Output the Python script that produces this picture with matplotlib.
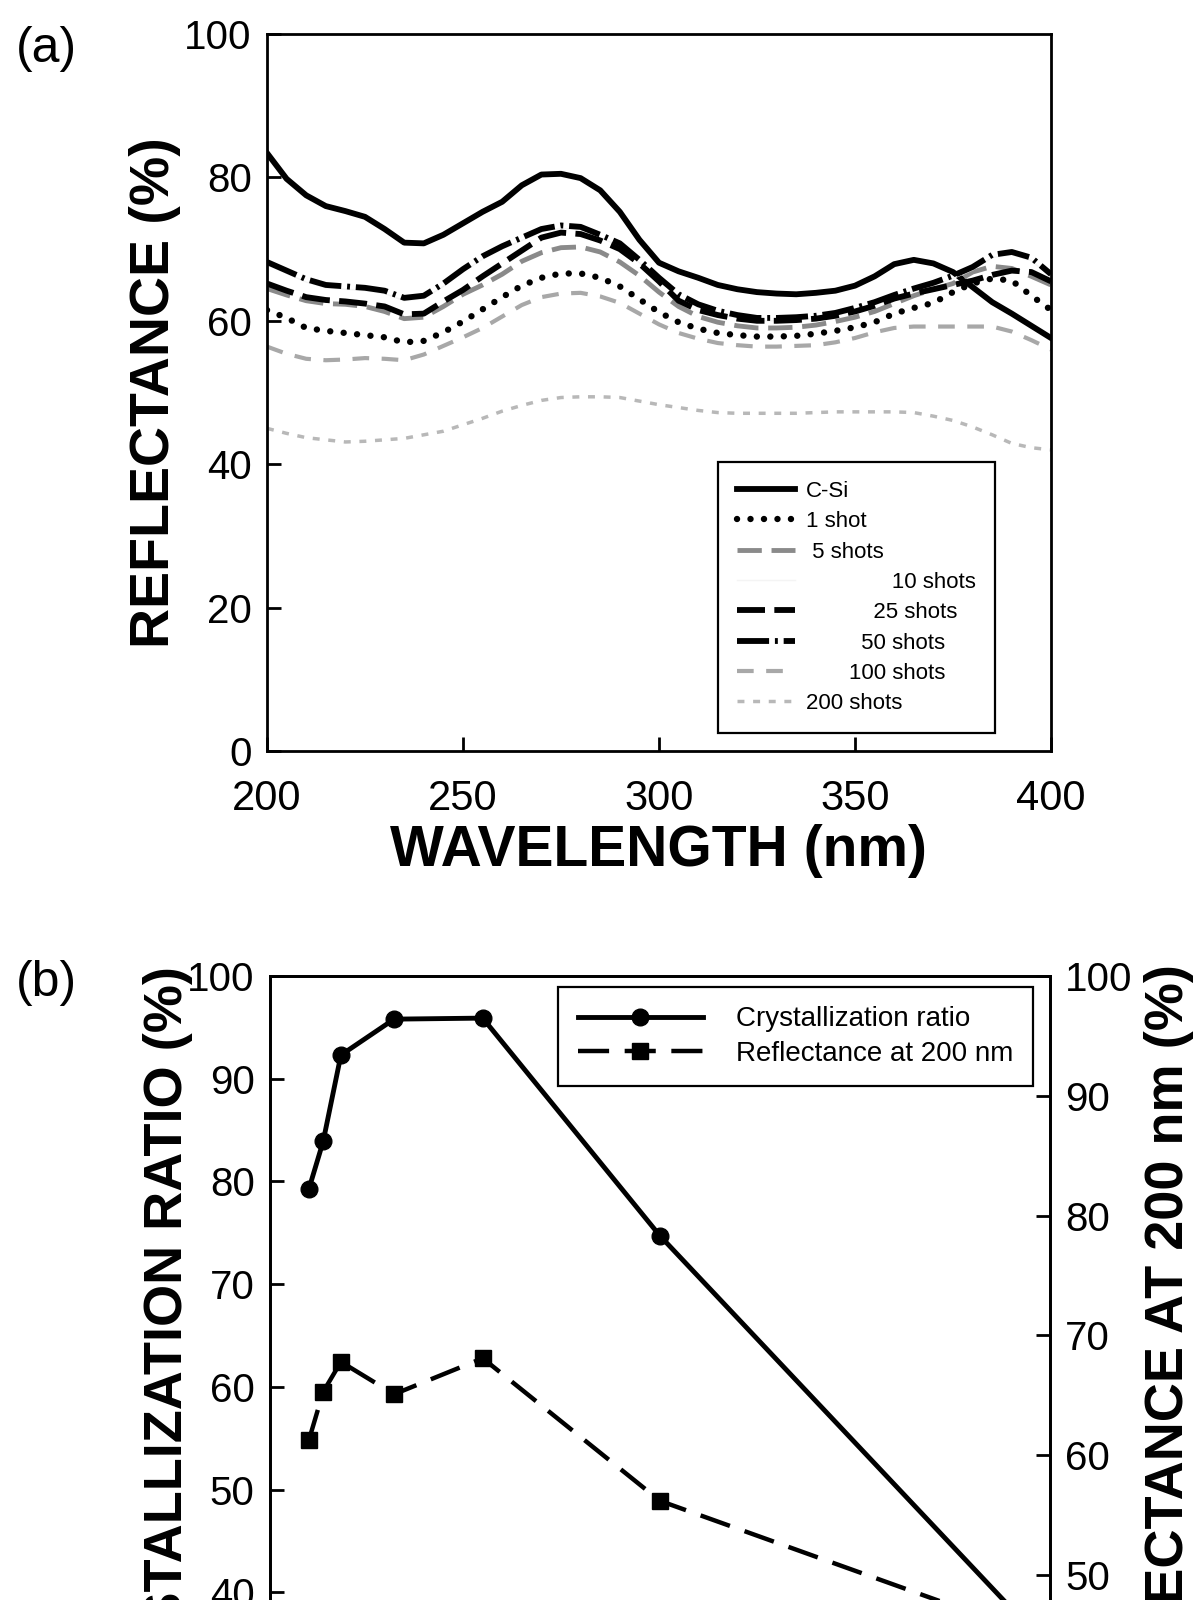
import matplotlib
matplotlib.use("Agg")
import matplotlib.pyplot as plt

plt.rcParams['font.family'] = ['Liberation Sans', 'DejaVu Sans']

# ---- panel (a): reflectance spectra ----
wavelength = [200, 205, 210, 215, 220, 225, 230, 235, 240, 245,
              250, 255, 260, 265, 270, 275, 280, 285, 290, 295,
              300, 305, 310, 315, 320, 325, 330, 335, 340, 345,
              350, 355, 360, 365, 370, 375, 380, 385, 390, 395, 400]

r_csi = [83.4, 79.8, 77.5, 76.0, 75.3, 74.5, 72.8, 70.9, 70.8, 72.0,
         73.6, 75.2, 76.6, 78.9, 80.4, 80.5, 79.9, 78.2, 75.2, 71.3,
         68.1, 66.9, 66.0, 65.0, 64.4, 64.0, 63.8, 63.7, 63.9, 64.2,
         64.9, 66.2, 67.9, 68.5, 68.0, 66.8, 64.7, 62.6, 61.0, 59.3, 57.6]
r_1 = [61.5, 60.4, 59.0, 58.6, 58.3, 58.0, 57.7, 57.0, 57.2, 58.4,
       59.9, 61.6, 63.3, 64.9, 66.0, 66.6, 66.6, 66.0, 64.8, 63.0,
       61.2, 59.8, 58.9, 58.3, 58.0, 57.8, 57.8, 57.9, 58.2, 58.6,
       59.1, 59.8, 61.0, 61.8, 62.5, 64.0, 65.2, 65.9, 65.6, 63.5, 61.5]
r_5 = [64.5, 63.6, 62.8, 62.4, 62.3, 62.0, 61.3, 60.3, 60.5, 62.0,
       63.7, 65.0, 66.5, 68.3, 69.5, 70.2, 70.3, 69.6, 68.2, 66.3,
       64.0, 62.0, 60.6, 59.8, 59.3, 59.0, 59.0, 59.1, 59.4, 59.9,
       60.5, 61.3, 62.4, 63.5, 64.4, 65.2, 66.8, 67.6, 67.3, 66.2, 65.0]
r_10 = [67.8, 66.6, 65.4, 64.6, 64.4, 64.2, 63.8, 62.8, 63.1, 64.8,
        66.8, 68.6, 70.0, 71.2, 72.4, 72.9, 72.7, 71.6, 70.4, 68.1,
        65.6, 63.3, 61.9, 61.0, 60.4, 60.0, 60.0, 60.1, 60.3, 60.7,
        61.4, 62.2, 63.2, 64.1, 64.9, 65.9, 67.1, 68.8, 69.2, 68.4, 66.1]
r_25 = [65.2, 64.2, 63.3, 62.9, 62.7, 62.4, 62.0, 60.9, 61.0, 62.7,
        64.3, 66.2, 68.0, 69.8, 71.6, 72.3, 72.1, 71.2, 70.0, 68.0,
        65.5, 62.8, 61.5, 60.8, 60.3, 60.0, 60.0, 60.1, 60.3, 60.7,
        61.3, 62.1, 63.1, 63.8, 64.4, 65.0, 65.6, 66.4, 67.0, 66.8, 65.5]
r_50 = [68.2, 67.0, 65.8, 65.0, 64.8, 64.6, 64.2, 63.2, 63.5, 65.2,
        67.2, 69.0, 70.4, 71.6, 72.8, 73.3, 73.1, 72.0, 70.8, 68.5,
        66.0, 63.7, 62.3, 61.4, 60.8, 60.4, 60.4, 60.5, 60.7, 61.1,
        61.8, 62.6, 63.6, 64.5, 65.3, 66.3, 67.5, 69.2, 69.6, 68.8, 66.5]
r_100 = [56.4, 55.4, 54.7, 54.5, 54.6, 54.8, 54.7, 54.5, 55.3, 56.5,
         57.7, 59.0, 60.6, 62.2, 63.3, 63.8, 63.9, 63.4, 62.5, 61.0,
         59.5, 58.3, 57.5, 56.9, 56.6, 56.4, 56.4, 56.5, 56.6, 57.0,
         57.6, 58.4, 59.0, 59.2, 59.2, 59.2, 59.2, 59.2, 58.5, 57.3, 56.0]
r_200 = [45.0, 44.3, 43.7, 43.4, 43.1, 43.2, 43.4, 43.6, 44.1, 44.6,
         45.5, 46.4, 47.4, 48.2, 48.9, 49.3, 49.4, 49.4, 49.3, 48.8,
         48.3, 47.9, 47.5, 47.2, 47.1, 47.1, 47.1, 47.1, 47.2, 47.3,
         47.3, 47.3, 47.3, 47.2, 46.7, 46.1, 45.2, 44.1, 42.9, 42.3, 42.0]

# ---- panel (b): crystallization ratio and reflectance at 200 nm ----
shots = [1, 5, 10, 25, 50, 100, 200]
cryst_ratio = [79.3, 83.9, 92.3, 95.8, 95.9, 74.7, 38.1]
refl_200 = [61.3, 65.3, 67.8, 65.1, 68.1, 56.2, 45.6]

W, H = 1198, 1600


def px_box(left, top, right, bottom):
    return [left / W, 1 - bottom / H, (right - left) / W, (bottom - top) / H]


fig = plt.figure(figsize=(W / 100, H / 100), dpi=100)

# ---------------- (a) ----------------
ax = fig.add_axes(px_box(267, 34, 1051, 751))

series = [
    (r_csi, "C-Si", dict(color="black", lw=4.2, ls="-")),
    (r_1, "1 shot", dict(color="black", lw=4.6, ls=(0, (0.01, 2.1)), dash_capstyle="round")),
    (r_5, " 5 shots", dict(color="#8a8a8a", lw=3.5, ls=(0, (5, 2)))),
    (r_10, "              10 shots", dict(color="#f4f4f4", lw=1.0, ls="-")),
    (r_25, "           25 shots", dict(color="black", lw=4.2, ls=(0, (4.8, 1.6)))),
    (r_50, "         50 shots", dict(color="black", lw=4.2, ls=(0, (5.5, 1, 0.5, 1)))),
    (r_100, "       100 shots", dict(color="#a8a8a8", lw=3.0, ls=(0, (4, 3)))),
    (r_200, "200 shots", dict(color="#b8b8b8", lw=2.5, ls=(0, (2, 2.5)))),
]
for vals, lab, style in series:
    ax.plot(wavelength, vals, label=lab, **style)

ax.set_xlim(200, 400)
ax.set_ylim(0, 100)
ax.set_xticks([200, 250, 300, 350, 400])
ax.set_yticks([0, 20, 40, 60, 80, 100])
ax.tick_params(axis="both", direction="in", length=10, width=2)
ax.tick_params(axis="y", labelsize=29, pad=11)
ax.tick_params(axis="x", labelsize=30, pad=20)
for sp in ax.spines.values():
    sp.set_linewidth(2)

ax.set_xlabel("WAVELENGTH (nm)", fontsize=41, fontweight="bold", labelpad=4)
fig.text(155 / W, 1 - 393 / H, "REFLECTANCE (%)", rotation=90, fontsize=40,
         fontweight="bold", ha="center", va="center")
fig.text(46 / W, 1 - 49 / H, "(a)", fontsize=36, ha="center", va="center")

leg = ax.legend(loc="lower right", bbox_to_anchor=(0.9286, 0.025), borderaxespad=0,
                fontsize=16, handlelength=2.6, handletextpad=0.5, labelspacing=0.42,
                borderpad=0.85, frameon=True, fancybox=False, framealpha=1)
leg.get_frame().set_edgecolor("black")
leg.get_frame().set_linewidth(1.6)

# ---------------- (b) ----------------
axb = fig.add_axes(px_box(270, 976, 1050, 1695))
axb2 = axb.twinx()

l1, = axb.plot(shots, cryst_ratio, color="black", lw=3.5, marker="o", ms=12,
               label="Crystallization ratio")
l2, = axb2.plot(shots, refl_200, color="black", lw=3.2, ls=(0, (7, 3.5)),
                marker="s", ms=11, label="Reflectance at 200 nm")

axb.set_xlim(-10, 210)
axb.set_ylim(30, 100)
axb2.set_ylim(40, 100)
axb.set_yticks([40, 50, 60, 70, 80, 90, 100])
axb2.set_yticks([40, 50, 60, 70, 80, 90, 100])
axb.tick_params(axis="x", bottom=False, top=False, labelbottom=False)
axb.tick_params(axis="y", direction="in", length=10, width=2, labelsize=29, pad=11)
axb2.tick_params(axis="y", direction="in", length=10, width=2, labelsize=29, pad=11)
for a in (axb, axb2):
    for sp in a.spines.values():
        sp.set_linewidth(2)

fig.text(168 / W, 1 - 966 / H, "CRYSTALLIZATION RATIO (%)", rotation=90, fontsize=39,
         fontweight="bold", ha="center", va="top")
fig.text(1169 / W, 1 - 964 / H, "REFLECTANCE AT 200 nm (%)", rotation=90, fontsize=39,
         fontweight="bold", ha="center", va="top")
fig.text(46 / W, 1 - 983 / H, "(b)", fontsize=36, ha="center", va="center")

legb = axb2.legend(handles=[l1, l2], loc="upper right", bbox_to_anchor=(0.978, 0.985),
                   borderaxespad=0, fontsize=20, handlelength=4.5, handletextpad=1.2,
                   labelspacing=0.3, borderpad=0.7, frameon=True, fancybox=False,
                   framealpha=1)
legb.get_frame().set_edgecolor("black")
legb.get_frame().set_linewidth(1.6)

fig.savefig("out.png", dpi=100)
